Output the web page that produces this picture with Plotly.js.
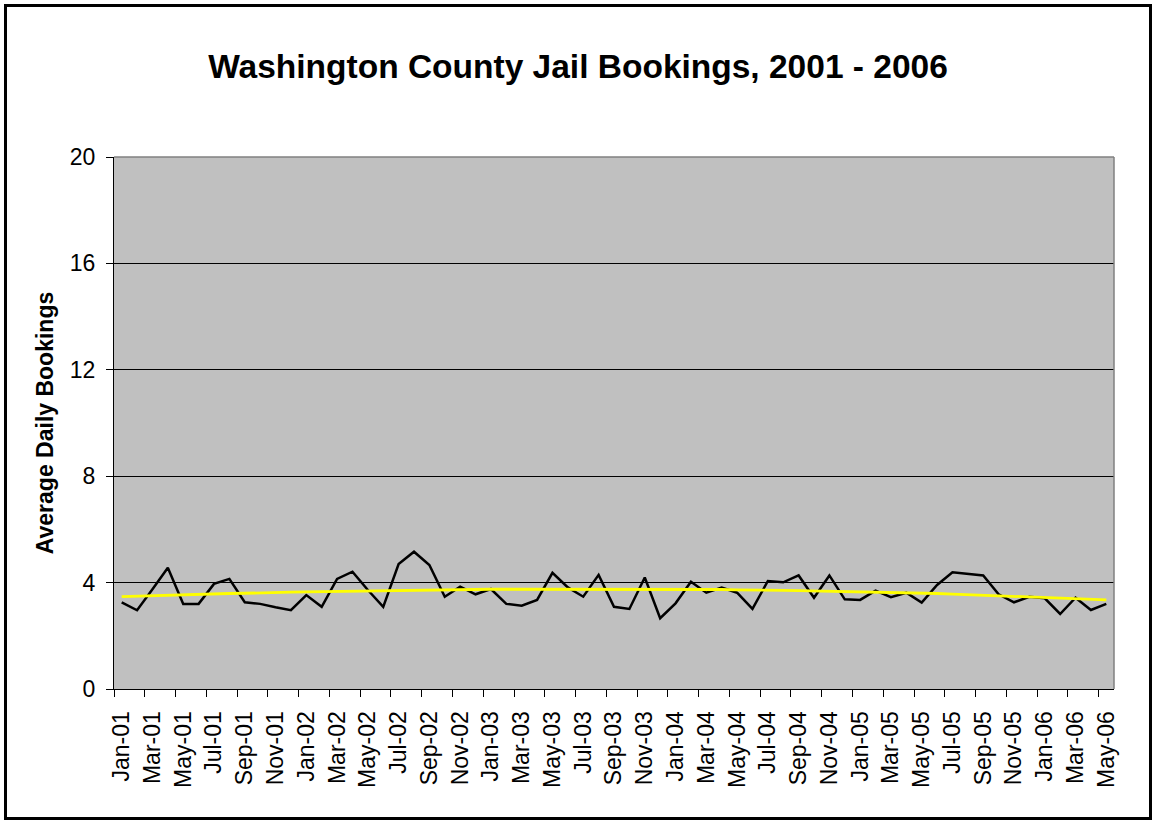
<!DOCTYPE html>
<html>
<head>
<meta charset="utf-8">
<script src="https://cdn.plot.ly/plotly-3.0.1.min.js"></script>
<style>
  html, body { margin: 0; padding: 0; background: #ffffff; }
  #chart { width: 1156px; height: 823px; }
  #frame { position: absolute; left: 4px; top: 4px; width: 1142px; height: 810px;
           border: 3px solid #000; pointer-events: none; }
</style>
</head>
<body>
<div id="chart"></div>
<div id="frame"></div>
<script>
const months = [
  "Jan-01","Feb-01","Mar-01","Apr-01","May-01","Jun-01","Jul-01","Aug-01","Sep-01","Oct-01","Nov-01","Dec-01",
  "Jan-02","Feb-02","Mar-02","Apr-02","May-02","Jun-02","Jul-02","Aug-02","Sep-02","Oct-02","Nov-02","Dec-02",
  "Jan-03","Feb-03","Mar-03","Apr-03","May-03","Jun-03","Jul-03","Aug-03","Sep-03","Oct-03","Nov-03","Dec-03",
  "Jan-04","Feb-04","Mar-04","Apr-04","May-04","Jun-04","Jul-04","Aug-04","Sep-04","Oct-04","Nov-04","Dec-04",
  "Jan-05","Feb-05","Mar-05","Apr-05","May-05","Jun-05","Jul-05","Aug-05","Sep-05","Oct-05","Nov-05","Dec-05",
  "Jan-06","Feb-06","Mar-06","Apr-06","May-06"
];

const bookings = [
  3.26, 2.96, 3.75, 4.56, 3.20, 3.20, 3.95, 4.14, 3.26, 3.20, 3.07, 2.96,
  3.53, 3.09, 4.14, 4.41, 3.72, 3.09, 4.70, 5.16, 4.66, 3.47, 3.85, 3.56,
  3.76, 3.20, 3.13, 3.35, 4.37, 3.82, 3.47, 4.29, 3.09, 3.01, 4.19, 2.66,
  3.22, 4.03, 3.62, 3.81, 3.62, 3.01, 4.06, 4.01, 4.27, 3.43, 4.27, 3.37,
  3.35, 3.70, 3.45, 3.62, 3.25, 3.91, 4.39, 4.34, 4.27, 3.56, 3.26, 3.47,
  3.41, 2.82, 3.43, 2.97, 3.20
];

const trend = [
  3.47, 3.49, 3.51, 3.52, 3.54, 3.56, 3.57, 3.59, 3.60, 3.62, 3.63, 3.64,
  3.65, 3.66, 3.67, 3.68, 3.69, 3.70, 3.71, 3.72, 3.72, 3.73, 3.74, 3.74,
  3.75, 3.75, 3.75, 3.76, 3.76, 3.76, 3.76, 3.76, 3.76, 3.76, 3.76, 3.76,
  3.75, 3.75, 3.75, 3.74, 3.73, 3.73, 3.72, 3.71, 3.70, 3.69, 3.68, 3.67,
  3.66, 3.65, 3.64, 3.62, 3.61, 3.59, 3.57, 3.55, 3.53, 3.51, 3.49, 3.47,
  3.45, 3.43, 3.40, 3.37, 3.35
];

const yTicks = [0, 4, 8, 12, 16, 20];

const idx = months.map((m, i) => i);
const labelIdx = idx.filter(i => i % 2 === 0);
const labelText = labelIdx.map(i => months[i]);

const FONT = '"Liberation Sans", Arial, sans-serif';

const traces = [
  {
    x: idx, y: bookings, type: 'scatter', mode: 'lines',
    line: { color: '#000000', width: 2.5 },
    hoverinfo: 'skip', showlegend: false
  },
  {
    x: idx, y: trend, type: 'scatter', mode: 'lines',
    line: { color: '#FFFF00', width: 2.8 },
    hoverinfo: 'skip', showlegend: false
  }
];

const layout = {
  width: 1156, height: 823,
  paper_bgcolor: '#ffffff',
  plot_bgcolor: '#C0C0C0',
  margin: { l: 114, r: 42, t: 157, b: 134 },
  font: { family: FONT, color: '#000000', size: 23 },
  title: {
    text: '<b>Washington County Jail Bookings, 2001 - 2006</b>',
    font: { family: FONT, size: 33.5, color: '#000000' },
    x: 0.5, xanchor: 'center', xref: 'container',
    y: 1 - 66 / 823, yanchor: 'middle', yref: 'container'
  },
  xaxis: {
    range: [-0.5, 64.5],
    tickmode: 'array', tickvals: labelIdx, ticktext: labelText,
    tickangle: -90,
    ticks: '', ticklabelstandoff: 12,
    tickfont: { family: FONT, size: 23, color: '#000' },
    showgrid: false, zeroline: false,
    showline: true, linecolor: '#000000', linewidth: 1,
    minor: { tickmode: 'linear', tick0: -0.5, dtick: 2, ticks: 'outside',
             ticklen: 7, tickwidth: 1, tickcolor: '#000000', showgrid: false },
    fixedrange: true
  },
  yaxis: {
    range: [0, 20],
    tickmode: 'array', tickvals: yTicks,
    ticks: 'outside', ticklen: 7, tickwidth: 1, tickcolor: '#000000',
    ticklabelstandoff: 6,
    tickfont: { family: FONT, size: 23, color: '#000' },
    showgrid: true, gridcolor: '#000000', gridwidth: 1,
    zeroline: false,
    showline: true, linecolor: '#000000', linewidth: 1,
    title: {
      text: '<b>Average Daily Bookings</b>',
      font: { family: FONT, size: 23, color: '#000' },
      standoff: 9
    },
    fixedrange: true
  },
  shapes: [
    { type: 'line', xref: 'paper', yref: 'paper', x0: 0, x1: 1, y0: 1, y1: 1,
      line: { color: '#808080', width: 1.5 }, layer: 'above' },
    { type: 'line', xref: 'paper', yref: 'paper', x0: 1, x1: 1, y0: 0, y1: 1,
      line: { color: '#808080', width: 1.5 }, layer: 'above' }
  ]
};

Plotly.newPlot('chart', traces, layout, { displayModeBar: false, staticPlot: true });
</script>
</body>
</html>
